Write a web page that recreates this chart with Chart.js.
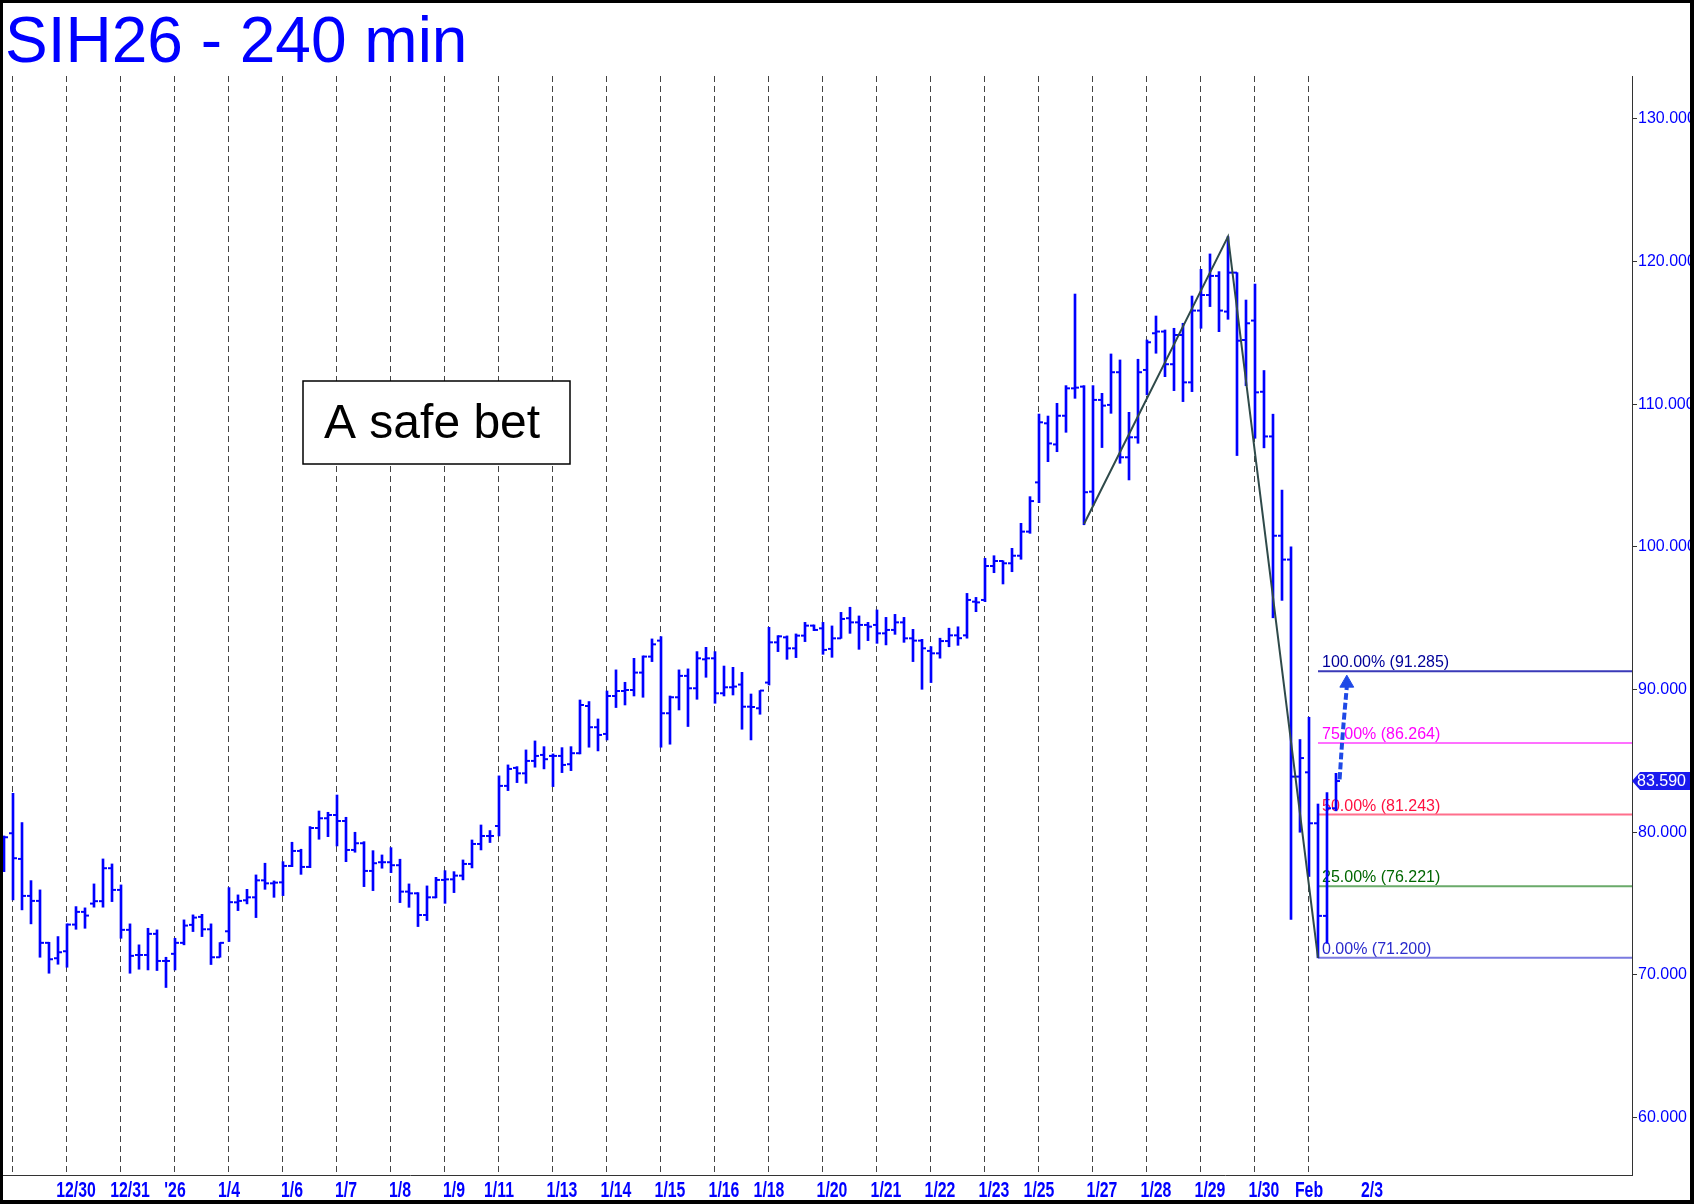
<!DOCTYPE html>
<html>
<head>
<meta charset="utf-8">
<script src="https://cdn.jsdelivr.net/npm/chart.js@4.4.1/dist/chart.umd.min.js"></script>
<style>
  html, body { margin: 0; padding: 0; background: #fff; }
  #wrap { width: 1694px; height: 1204px; }
</style>
</head>
<body>
<div id="wrap"><canvas id="chart" width="1694" height="1204"></canvas></div>
<script>
// SIH26 - 240 min, one OHLC bar per 4h session slot (index 0..148)
const opens = [
  77.64, 79.93, 78.13, 75.54, 75.19, 72.25, 71.17, 71.66, 73.53, 74.42,
  75.00, 75.17, 77.48, 75.96, 73.16, 71.40, 71.40, 72.88, 70.98, 71.48,
  72.25, 73.51, 74.07, 73.20, 71.24, 73.06, 75.09, 75.23, 75.44, 76.63,
  76.42, 76.49, 77.64, 78.69, 77.57, 80.30, 80.98, 81.21, 80.79, 78.76,
  79.23, 77.29, 77.90, 77.90, 77.69, 75.84, 75.72, 74.20, 75.44, 76.66,
  76.70, 76.96, 77.78, 79.18, 79.74, 80.44, 83.25, 84.51, 84.13, 85.00,
  85.42, 85.35, 85.35, 84.77, 85.54, 88.85, 87.36, 86.89, 89.55, 89.90,
  89.97, 91.19, 92.31, 93.43, 88.34, 89.46, 90.96, 90.09, 92.12, 92.19,
  89.74, 90.16, 90.35, 88.80, 88.69, 90.49, 93.31, 93.66, 92.89, 93.78,
  94.48, 94.29, 92.85, 93.59, 95.00, 94.71, 94.53, 94.53, 93.94, 94.18,
  94.71, 93.59, 93.43, 92.71, 92.54, 93.40, 93.80, 93.80, 96.16, 96.28,
  98.66, 99.01, 98.85, 99.38, 101.07, 104.52, 108.66, 107.18, 109.19, 111.11,
  111.23, 103.87, 110.30, 109.95, 112.24, 106.28, 107.68, 112.40, 114.97, 115.09,
  112.80, 114.85, 111.53, 116.56, 117.65, 118.99, 116.49, 119.22, 114.50, 115.86,
  110.87, 107.74, 100.78, 99.11, 83.90, 84.20, 80.63, 74.14, 81.68
];
const highs = [
  79.74, 82.73, 80.68, 76.61, 75.96, 72.29, 72.69, 73.58, 74.79, 74.70,
  76.38, 78.13, 77.78, 76.31, 73.58, 72.11, 73.27, 73.16, 71.24, 72.57,
  73.86, 74.21, 74.25, 73.58, 72.27, 76.12, 75.61, 76.00, 77.01, 77.83,
  76.59, 77.94, 79.30, 78.81, 80.40, 81.49, 81.40, 82.61, 81.05, 80.00,
  79.34, 78.71, 78.41, 78.92, 78.11, 76.38, 75.77, 76.24, 76.84, 77.31,
  77.24, 78.06, 79.46, 80.51, 80.12, 83.95, 84.72, 84.60, 85.77, 86.40,
  86.00, 85.49, 85.93, 86.00, 89.27, 89.16, 87.94, 89.90, 91.38, 90.51,
  92.19, 92.36, 93.55, 93.71, 89.55, 91.38, 91.45, 92.66, 92.96, 92.66,
  91.65, 91.56, 91.21, 89.69, 89.93, 94.36, 93.78, 93.76, 93.90, 94.71,
  94.53, 94.71, 94.46, 95.41, 95.77, 95.16, 94.71, 95.58, 95.06, 95.27,
  95.06, 94.22, 93.52, 93.01, 93.60, 94.30, 94.40, 96.74, 96.46, 99.20,
  99.38, 99.03, 99.90, 101.65, 103.52, 109.31, 109.17, 110.06, 111.30, 117.72,
  111.30, 111.30, 110.76, 113.52, 113.10, 109.43, 113.15, 114.50, 116.18, 115.20,
  115.32, 115.67, 117.58, 119.45, 120.53, 119.29, 121.74, 119.22, 117.30, 118.42,
  112.36, 109.30, 103.98, 100.00, 86.50, 88.06, 81.98, 82.78, 84.13
];
const lows = [
  77.24, 75.26, 74.56, 73.58, 71.24, 70.12, 70.75, 70.54, 73.20, 73.27,
  74.75, 74.75, 75.14, 72.57, 70.12, 70.40, 70.35, 70.31, 69.12, 70.35,
  72.11, 73.04, 72.69, 70.73, 71.24, 72.34, 74.51, 74.98, 74.02, 76.00,
  75.44, 75.56, 77.59, 77.05, 77.52, 79.51, 79.69, 79.04, 77.94, 78.60,
  76.19, 75.91, 77.48, 77.17, 75.07, 74.74, 73.39, 73.81, 75.40, 75.02,
  75.77, 76.66, 77.50, 78.76, 79.28, 79.74, 82.92, 83.48, 83.43, 84.56,
  84.44, 83.20, 84.18, 84.32, 85.49, 85.96, 85.70, 86.47, 88.74, 88.92,
  89.55, 89.46, 91.96, 85.96, 86.17, 88.57, 87.41, 89.32, 90.86, 89.04,
  89.55, 89.62, 87.22, 86.47, 88.27, 90.32, 92.66, 92.12, 92.24, 93.36,
  94.13, 92.47, 92.26, 93.59, 93.94, 92.82, 93.43, 93.24, 93.13, 93.87,
  93.31, 91.96, 90.02, 90.49, 92.20, 93.00, 93.10, 93.60, 95.46, 96.16,
  98.19, 97.40, 98.26, 99.13, 100.95, 103.10, 105.97, 106.67, 108.03, 110.41,
  101.55, 102.90, 106.96, 109.36, 105.86, 104.69, 107.26, 110.65, 113.57, 111.93,
  110.95, 110.18, 110.88, 115.32, 116.84, 115.08, 115.95, 106.40, 111.30, 107.61,
  106.94, 95.03, 96.25, 73.90, 80.00, 76.90, 71.20, 72.22, 81.50
];
const closes = [
  79.65, 78.18, 75.54, 75.19, 72.25, 71.10, 71.59, 73.53, 74.42, 74.16,
  75.17, 77.48, 75.96, 73.16, 71.34, 71.40, 72.88, 70.98, 70.98, 72.25,
  73.46, 74.02, 73.20, 71.24, 72.25, 75.10, 75.19, 75.44, 76.63, 76.42,
  76.47, 77.64, 78.69, 77.57, 80.30, 80.98, 81.21, 80.79, 78.76, 79.23,
  77.29, 77.83, 77.90, 77.69, 75.84, 75.72, 74.20, 75.44, 76.66, 76.70,
  76.96, 77.78, 79.18, 79.74, 79.74, 83.25, 84.44, 84.13, 85.00, 85.35,
  85.12, 85.35, 84.72, 85.54, 88.92, 87.36, 86.82, 89.55, 89.90, 89.97,
  91.19, 92.31, 93.17, 88.34, 89.46, 90.96, 90.09, 92.19, 92.19, 89.74,
  90.16, 90.21, 88.80, 88.78, 89.93, 93.31, 93.73, 92.89, 93.78, 94.48,
  94.18, 92.78, 93.59, 94.95, 94.71, 94.53, 94.41, 93.94, 94.18, 94.71,
  93.59, 93.43, 92.89, 92.54, 93.40, 93.80, 93.60, 96.28, 96.11, 98.66,
  99.01, 98.85, 99.38, 101.07, 103.21, 108.73, 107.25, 109.19, 111.11, 111.16,
  103.83, 110.30, 109.90, 112.24, 106.28, 107.68, 112.24, 114.34, 115.09, 112.80,
  114.85, 111.53, 116.56, 117.65, 118.99, 116.56, 119.22, 114.45, 115.67, 110.83,
  107.74, 100.78, 99.11, 83.90, 85.20, 80.63, 74.14, 81.68, 83.59
];

// x axis: session separators (dashed) and date labels, in bar-index units
const sessionLines = [1, 7, 13, 19, 25, 31, 37, 43, 49, 55, 61, 67, 73, 79, 85, 91, 97, 103, 109, 115, 121, 127, 133, 139, 145];
const dateTicks = [8, 14, 19, 25, 32, 38, 44, 50, 55, 62, 68, 74, 80, 85, 92, 98, 104, 110, 115, 122, 128, 134, 140, 145, 152];
const dateLabels = ['12/30', '12/31', "'26", '1/4', '1/6', '1/7', '1/8', '1/9', '1/11', '1/13', '1/14', '1/15', '1/16', '1/18', '1/20', '1/21', '1/22', '1/23', '1/25', '1/27', '1/28', '1/29', '1/30', 'Feb', '2/3'];
const priceTicks = [60, 70, 80, 90, 100, 110, 120, 130];

// swing used for the retracement, and the levels drawn from it
const swingX = [120, 136, 146];
const swingY = [101.60, 121.74, 71.20];
const fibPct = ['100.00%', '75.00%', '50.00%', '25.00%', '0.00%'];
const fibLevels = [91.285, 86.264, 81.243, 76.221, 71.200];
const fibLineColors = ['#3a3ab8', '#ff70ff', '#ff6f8c', '#6aaa6a', '#7a7ae0'];
const fibTextColors = ['#000099', '#ff00ff', '#ff1040', '#006600', '#2a2acc'];
const fibStart = 146;

// projected path (dashed arrow) off the last bar
const arrowX = [148.4, 148.75, 149.2];
const arrowY = [83.7, 86.9, 90.2];
const arrowHead = { x: 149.2, y: 90.45 };

const lastPrice = 83.590;

const X_MIN = -0.111, X_MAX = 180.889;
const Y_MIN = 55.98, Y_MAX = 133.0;
const BLUE = '#0000ff';
const FONT = "'Liberation Sans', Arial, sans-serif";

const lineAt = new Set(sessionLines);

const barData = highs.map((h, i) => ({ x: i, y: [lows[i], h] }));
const openData = opens.map((o, i) => ({ x: i - 0.22, y: o }));
const closeData = closes.map((c, i) => ({ x: i + 0.22, y: c }));

const fibDatasets = fibLevels.map((lv, i) => ({
  type: 'line',
  data: [{ x: fibStart, y: lv }, { x: X_MAX, y: lv }],
  borderColor: fibLineColors[i],
  borderWidth: 2,
  pointRadius: 0,
  order: 5
}));

const decor = {
  id: 'decor',
  beforeDraw(chart) {
    const ctx = chart.ctx;
    ctx.save();
    ctx.fillStyle = '#fff';
    ctx.fillRect(0, 0, chart.width, chart.height);
    ctx.restore();
  },
  beforeDatasetsDraw(chart) {
    const ctx = chart.ctx;
    const xs = chart.scales.x, ys = chart.scales.y;
    ctx.save();
    ctx.font = '16px ' + FONT;
    ctx.textBaseline = 'alphabetic';
    fibLevels.forEach((lv, i) => {
      ctx.fillStyle = fibTextColors[i];
      ctx.fillText(fibPct[i] + ' (' + lv.toFixed(3) + ')', xs.getPixelForValue(fibStart) + 4, ys.getPixelForValue(lv) - 4);
    });
    ctx.restore();
  },
  afterDraw(chart) {
    const ctx = chart.ctx;
    const xs = chart.scales.x, ys = chart.scales.y;
    ctx.save();

    // date labels, condensed like the original
    ctx.fillStyle = BLUE;
    ctx.font = 'bold 22px ' + FONT;
    ctx.textAlign = 'center';
    ctx.textBaseline = 'middle';
    dateTicks.forEach((t, i) => {
      ctx.save();
      ctx.translate(xs.getPixelForValue(t), 1191);
      ctx.scale(0.72, 1);
      ctx.fillText(dateLabels[i], 0, 0);
      ctx.restore();
    });
    ctx.textAlign = 'left';

    // title
    ctx.fillStyle = BLUE;
    ctx.font = '64px ' + FONT;
    ctx.textBaseline = 'alphabetic';
    ctx.fillText('SIH26 - 240 min', 5, 62);

    // note box
    ctx.fillStyle = '#fff';
    ctx.fillRect(303, 381, 267, 83);
    ctx.strokeStyle = '#000';
    ctx.lineWidth = 1.5;
    ctx.strokeRect(303, 381, 267, 83);
    ctx.fillStyle = '#000';
    ctx.font = '48px ' + FONT;
    ctx.fillText('A safe bet', 324, 438);

    // last price tag
    const py = ys.getPixelForValue(lastPrice);
    ctx.fillStyle = '#1a1aee';
    ctx.beginPath();
    ctx.moveTo(1632, py);
    ctx.lineTo(1640, py - 9);
    ctx.lineTo(1694, py - 9);
    ctx.lineTo(1694, py + 9);
    ctx.lineTo(1640, py + 9);
    ctx.closePath();
    ctx.fill();
    ctx.fillStyle = '#fff';
    ctx.font = '16px ' + FONT;
    ctx.textBaseline = 'middle';
    ctx.fillText(lastPrice.toFixed(3), 1637, py + 1);

    // outer frame
    ctx.fillStyle = '#000';
    ctx.fillRect(0, 0, 1694, 3);
    ctx.fillRect(0, 0, 3, 1204);
    ctx.fillRect(1690, 0, 4, 1204);
    ctx.fillRect(0, 1200, 1694, 4);
    ctx.restore();
  }
};

new Chart(document.getElementById('chart'), {
  type: 'bar',
  data: {
    datasets: [
      {
        type: 'line',
        data: swingX.map((x, i) => ({ x: x, y: swingY[i] })),
        borderColor: '#2f4a4a',
        borderWidth: 2,
        pointRadius: 0,
        order: 1
      },
      {
        type: 'line',
        data: arrowX.map((x, i) => ({ x: x, y: arrowY[i] })),
        borderColor: '#1f49e6',
        borderWidth: 4,
        borderDash: [7, 3],
        tension: 0.4,
        pointRadius: 0,
        order: 0
      },
      {
        type: 'line',
        data: [arrowHead],
        showLine: false,
        pointStyle: 'triangle',
        pointRadius: 8,
        pointBackgroundColor: '#1f49e6',
        pointBorderColor: '#1f49e6',
        pointBorderWidth: 1,
        order: 0
      },
      {
        type: 'line',
        data: openData,
        showLine: false,
        pointStyle: 'line',
        pointRadius: 2,
        pointBorderWidth: 2,
        pointBorderColor: BLUE,
        order: 2
      },
      {
        type: 'line',
        data: closeData,
        showLine: false,
        pointStyle: 'line',
        pointRadius: 2,
        pointBorderWidth: 2,
        pointBorderColor: BLUE,
        order: 2
      },
      {
        type: 'bar',
        data: barData,
        backgroundColor: BLUE,
        borderWidth: 0,
        barThickness: 2,
        order: 3
      },
      ...fibDatasets
    ]
  },
  options: {
    responsive: false,
    animation: false,
    devicePixelRatio: 1,
    layout: { autoPadding: false, padding: { left: 3, top: 76, right: 0, bottom: 0 } },
    plugins: { legend: { display: false }, tooltip: { enabled: false } },
    scales: {
      x: {
        type: 'linear',
        position: 'bottom',
        min: X_MIN,
        max: X_MAX,
        offset: false,
        afterBuildTicks: (s) => { s.ticks = sessionLines.map((v) => ({ value: v })); },
        afterFit: (s) => { s.height = 29; },
        ticks: { display: false, autoSkip: false, maxRotation: 0 },
        grid: {
          offset: false,
          color: (c) => (c.tick && lineAt.has(c.tick.value) ? '#444' : 'rgba(0,0,0,0)'),
          lineWidth: 1,
          drawTicks: false
        },
        border: { display: true, color: '#333', width: 1, dash: [6, 4] }
      },
      y: {
        type: 'linear',
        position: 'right',
        min: Y_MIN,
        max: Y_MAX,
        afterBuildTicks: (s) => { s.ticks = priceTicks.map((v) => ({ value: v })); },
        afterFit: (s) => { s.width = 62; },
        ticks: {
          color: BLUE,
          padding: 1,
          font: { family: FONT, size: 16 },
          callback: (v) => Number(v).toFixed(3)
        },
        grid: { drawOnChartArea: false, drawTicks: true, tickLength: 5, tickColor: '#333' },
        border: { display: true, color: '#333', width: 1 }
      }
    }
  },
  plugins: [decor]
});
</script>
</body>
</html>
